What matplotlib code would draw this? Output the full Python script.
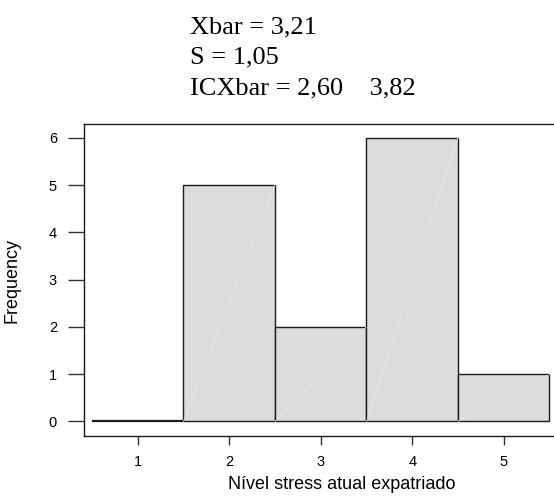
import matplotlib
matplotlib.use("Agg")
import matplotlib.pyplot as plt

categories = [1, 2, 3, 4, 5]
counts = [0, 5, 2, 6, 1]
yticks = [0, 1, 2, 3, 4, 5, 6]
stats_lines = ["Xbar = 3,21", "S = 1,05", "ICXbar = 2,60    3,82"]
xlabel = "Nível stress atual expatriado"
ylabel = "Frequency"

W, H = 554, 496
fig = plt.figure(figsize=(W / 100, H / 100), dpi=100)

# axes in pixel coordinates (right side extends beyond canvas like the reference)
left_px, right_px, top_px, bottom_px = 84, 600, 124.3, 436
aw = right_px - left_px
ax = fig.add_axes([left_px / W, 1 - bottom_px / H,
                   aw / W, (bottom_px - top_px) / H])

bars = ax.bar(categories, counts, width=1.0, color="#dcdcdc",
              edgecolor="#1a1a1a", linewidth=1.0, zorder=2)
bars[0].set_linewidth(1.6)
for x, c in zip(categories, counts):
    if c > 0:
        ax.plot([x - 0.5, x + 0.5], [0, c], color="#ebebeb", lw=0.7,
                ls=(0, (2, 1.5)), zorder=3)

ax.set_xlim(0.413, 6.052)
ax.set_ylim(-0.307, 6.288)
ax.set_xticks(categories)
ax.set_yticks(yticks)

for s in ["left", "bottom", "top", "right"]:
    ax.spines[s].set_color("#1a1a1a")
    ax.spines[s].set_linewidth(1.0)

ax.tick_params(axis="y", direction="out", length=11.5, width=1.0, color="#333333",
               labelsize=10.5, pad=8)
ax.tick_params(axis="x", direction="out", length=6.5, width=1.0, color="#333333",
               labelsize=10.5, pad=7)
for lab in ax.get_xticklabels() + ax.get_yticklabels():
    lab.set_fontfamily("Liberation Sans")

ax.set_xlabel(xlabel, fontsize=13, family="Liberation Sans", labelpad=5)
ax.set_ylabel(ylabel, fontsize=13, family="Liberation Sans")
ax.yaxis.set_label_coords((21 - left_px) / aw, 0.5)

baselines = [33, 63, 94]
for txt, b in zip(stats_lines, baselines):
    fig.text(190 / W, 1 - b / H, txt, family="Liberation Serif", fontsize=19,
             ha="left", va="baseline")

fig.savefig("out.png", dpi=100)
